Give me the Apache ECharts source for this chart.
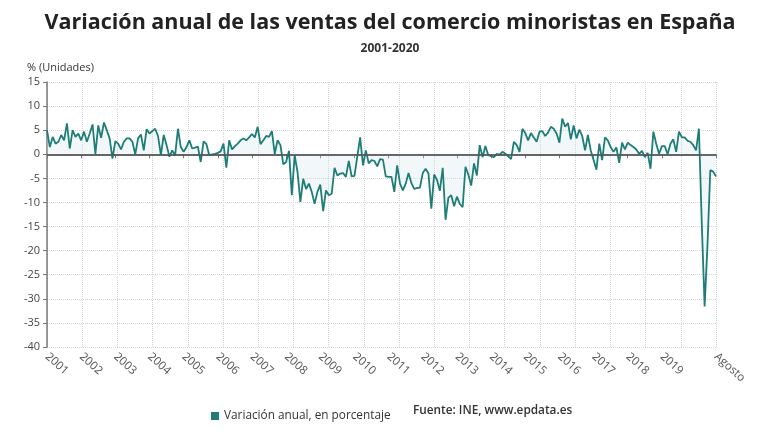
<!DOCTYPE html>
<html>
<head>
<meta charset="utf-8">
<script src="https://cdn.jsdelivr.net/npm/echarts@6/dist/echarts.min.js"></script>
<style>
    html, body { margin: 0; padding: 0; background: #fff; }
    #chart { width: 780px; height: 440px; }
</style>
</head>
<body>
<div id="chart"></div>
<script>
// años del eje y meses de 2020 disponibles
const anios = [2001, 2002, 2003, 2004, 2005, 2006, 2007, 2008, 2009, 2010,
               2011, 2012, 2013, 2014, 2015, 2016, 2017, 2018, 2019, 2020];
const mesesUltimoAnio = 8;
const etiquetaFinal = 'Agosto';

// variación anual (%) mes a mes
const valores = [
    5.0, 1.5, 3.6, 2.2, 2.6, 4.0, 2.9, 6.4, 1.2, 5.0, 3.6, 4.3,          // 2001
    2.9, 4.7, 2.6, 4.3, 6.2, 0.1, 6.0, 3.4, 6.6, 5.0, 3.3, -0.9,         // 2002
    2.7, 2.2, 1.0, 2.6, 3.3, 3.3, 2.6, 0.0, 3.3, 4.1, 0.8, 5.2,          // 2003
    4.3, 4.8, 5.3, 3.8, -0.2, 4.0, 1.9, -0.5, 0.8, -0.3, 5.3, 1.5,       // 2004
    0.5, 1.5, 2.9, 1.2, 1.4, 1.6, -1.6, 2.7, 2.1, -0.2, 0.0, 0.1,        // 2005
    0.3, 0.6, 2.2, -2.8, 2.9, 1.0, 1.7, 2.2, 2.9, 3.3, 2.9, 3.5,         // 2006
    4.2, 3.5, 5.7, 2.1, 2.9, 3.8, 3.6, 4.8, 0.1, 2.9, 1.9, -2.1,         // 2007
    -1.6, 0.7, -8.5, -0.2, -3.7, -9.9, -5.1, -7.2, -6.1, -7.8, -10.3, -7.8, // 2008
    -6.3, -11.8, -7.5, -8.5, -8.2, -2.8, -4.4, -4.0, -3.9, -4.7, -1.4, -4.6, // 2009
    -4.5, -0.5, 3.5, -2.3, 0.8, -1.9, -1.2, -1.4, -2.5, -1.0, -1.1, -4.6, // 2010
    -4.7, -4.7, -7.8, -2.3, -6.1, -7.5, -6.1, -3.9, -6.0, -7.2, -7.0, -6.9, // 2011
    -3.9, -3.0, -4.0, -11.3, -4.2, -5.3, -7.6, -2.8, -13.6, -9.0, -8.5, -10.8, // 2012
    -8.8, -10.3, -11.0, -2.6, -4.2, -6.5, -1.9, -4.4, 1.9, -0.6, 1.7, -0.2, // 2013
    -0.4, -0.6, 0.1, -0.1, 0.5, 0.1, -0.4, -1.0, 2.6, 1.9, 0.5, 5.3,     // 2014
    4.4, 2.9, 4.4, 3.5, 2.6, 4.7, 4.8, 3.8, 4.5, 5.7, 5.3, 4.3,          // 2015
    2.4, 7.4, 5.7, 6.5, 3.1, 6.0, 3.3, 5.1, 3.8, 0.8, 4.0, 0.8,          // 2016
    -1.2, -3.2, 2.2, -1.2, 3.5, 2.9, 1.5, 0.5, 1.4, -1.8, 2.4, 1.0,      // 2017
    2.4, 1.9, 1.5, 1.0, 0.1, 0.7, -0.6, 0.3, -3.0, 4.7, 2.2, 0.1,        // 2018
    1.7, 1.7, 0.0, 2.2, 3.1, 0.5, 4.7, 3.5, 3.5, 2.8, 2.6, 1.9,          // 2019
    0.8, 5.3, -14.3, -31.6, -19.0, -3.3, -3.6, -4.6                      // 2020
];

// categorías "AAAA-MM"
const meses = [];
anios.forEach((a, i) => {
    const n = i === anios.length - 1 ? mesesUltimoAnio : 12;
    for (let m = 1; m <= n; m++) meses.push(a + '-' + String(m).padStart(2, '0'));
});
const ultimo = meses.length - 1;
const inicioUltimoAnio = ultimo - mesesUltimoAnio + 1;
// enero de cada año completo y el último mes
const esMarca = (idx) => idx === ultimo || (idx % 12 === 0 && idx < inicioUltimoAnio);

const mChart = echarts.init(document.getElementById('chart'));
const fuente = '"Open Sans", "Noto Sans", sans-serif';

const options = {
    animation: false,
    textStyle: { fontFamily: fuente },
    title: {
        text: 'Variación anual de las ventas del comercio minoristas en España',
        subtext: '2001-2020',
        left: 'center',
        top: 7,
        itemGap: 9,
        textStyle: { fontSize: 21.5, fontWeight: 'bold', color: '#222', fontFamily: fuente },
        subtextStyle: { fontSize: 12, fontWeight: 'bold', color: '#333', fontFamily: fuente }
    },
    legend: {
        data: ['Variación anual, en porcentaje'],
        left: 206,
        top: 405,
        icon: 'rect',
        itemWidth: 8,
        itemHeight: 8,
        itemGap: 6,
        textStyle: { fontSize: 11.8, color: '#333', fontFamily: fuente }
    },
    graphic: [
        {
            type: 'text', left: 27, top: 62,
            style: { text: '% (Unidades)', fontSize: 11, fill: '#333', fontFamily: fuente }
        },
        {
            type: 'text', left: 413, top: 405,
            style: { text: 'Fuente: INE, www.epdata.es', fontSize: 11.8, fontWeight: 600, fill: '#333', fontFamily: fuente }
        }
    ],
    grid: { left: 47, right: 64, top: 82, bottom: 93 },
    xAxis: [
        {
            type: 'category',
            data: meses,
            boundaryGap: false,
            axisLine: { lineStyle: { color: '#777', width: 1.5 } },
            axisTick: { interval: esMarca, length: 4, lineStyle: { color: '#777' } },
            axisLabel: {
                interval: esMarca,
                rotate: -42,
                margin: 8,
                fontSize: 11.5,
                color: '#555',
                formatter: (v, idx) => idx === ultimo ? etiquetaFinal : v.slice(0, 4)
            },
            splitLine: { show: false }
        },
        {
            // rejilla vertical
            type: 'value',
            min: 0,
            max: 19,
            interval: 1,
            position: 'bottom',
            axisLine: { show: false },
            axisTick: { show: false },
            axisLabel: { show: false },
            splitLine: { show: true, lineStyle: { color: '#d4d4d4', type: 'dotted' } }
        }
    ],
    yAxis: {
        type: 'value',
        min: -40,
        max: 15,
        interval: 5,
        axisLine: { show: true, lineStyle: { color: '#777', width: 1.5 } },
        axisTick: { show: true, length: 4, lineStyle: { color: '#777' } },
        axisLabel: { fontSize: 11, color: '#444', margin: 7 },
        splitLine: { lineStyle: { color: '#d4d4d4', type: 'dotted' } }
    },
    series: [
        {
            name: 'Variación anual, en porcentaje',
            type: 'line',
            data: valores,
            xAxisIndex: 0,
            symbol: 'none',
            lineStyle: { color: '#1f7d77', width: 1.8 },
            itemStyle: { color: '#1f7d77' },
            areaStyle: { origin: 0, color: 'rgba(200, 225, 235, 0.35)' },
            markLine: {
                silent: true,
                symbol: 'none',
                label: { show: false },
                lineStyle: { color: '#555', width: 1.5, type: 'solid' },
                data: [{ yAxis: 0 }]
            }
        }
    ]
};

mChart.setOption(options);
</script>
</body>
</html>
